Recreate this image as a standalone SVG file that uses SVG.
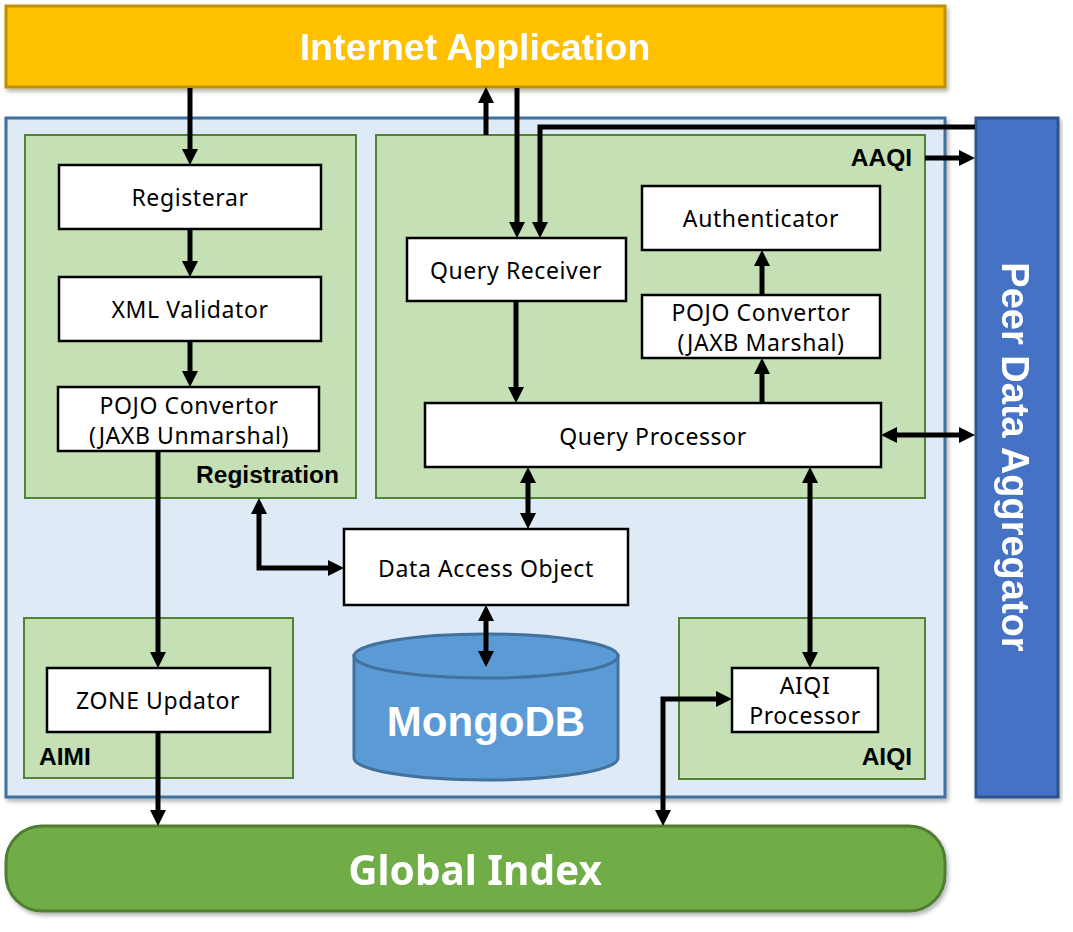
<svg xmlns="http://www.w3.org/2000/svg" width="1073" height="932" viewBox="0 0 1073 932">
<style>
.box{fill:#fff;stroke:#000;stroke-width:2.5}
.grp{fill:#C5E0B4;stroke:#548235;stroke-width:2}
.t{font-family:"Noto Sans","Open Sans",sans-serif;font-size:23px;letter-spacing:0.6px;fill:#000;text-anchor:middle}
.gl{font-family:"Liberation Sans",Arial,sans-serif;font-weight:bold;font-size:24.5px;fill:#000}
.big{font-family:"Liberation Sans",Arial,sans-serif;font-weight:bold;fill:#fff;text-anchor:middle}
.c{fill:none;stroke:#000;stroke-width:5}
</style>
<defs>
<filter id="sh" x="-5%" y="-5%" width="110%" height="115%">
<feDropShadow dx="2" dy="3" stdDeviation="2" flood-color="#000" flood-opacity="0.3"/>
</filter>
<marker id="ah" viewBox="0 0 16 16" refX="6" refY="8" markerWidth="16" markerHeight="16" markerUnits="userSpaceOnUse" orient="auto-start-reverse">
<path d="M0,0 L16,8 L0,16 z" fill="#000"/>
</marker>
</defs>
<rect width="1073" height="932" fill="#fff"/>

<g id="internet-app" filter="url(#sh)">
<rect x="6" y="6" width="939" height="81" fill="#FFC000" stroke="#BF9000" stroke-width="3"/>
<text class="big" x="475" y="60" font-size="37.5">Internet Application</text>
</g>

<g id="container" filter="url(#sh)">
<rect x="6" y="118" width="939" height="679" fill="#DEEAF6" stroke="#41719C" stroke-width="3"/>
</g>

<g id="peer-data-aggregator" filter="url(#sh)">
<rect x="976" y="118" width="82" height="679" fill="#4472C4" stroke="#2F528F" stroke-width="3"/>
<text class="big" x="1016" y="457" font-size="38" dy=".36em" transform="rotate(90 1016 457)">Peer Data Aggregator</text>
</g>

<g id="global-index" filter="url(#sh)">
<rect x="6" y="826" width="939" height="85" rx="36" ry="36" fill="#70AD47" stroke="#507E32" stroke-width="3"/>
<text x="475" y="885" font-family="'Noto Sans','Open Sans',sans-serif" font-weight="bold" font-size="40.5" fill="#fff" text-anchor="middle">Global Index</text>
</g>

<g id="registration">
<rect class="grp" x="25" y="135" width="331" height="363"/>
<text class="gl" x="339" y="483" text-anchor="end">Registration</text>
</g>

<g id="aaqi">
<rect class="grp" x="376" y="135" width="549" height="363"/>
<text class="gl" x="912" y="166" text-anchor="end">AAQI</text>
</g>

<g id="aimi">
<rect class="grp" x="24" y="618" width="269" height="160"/>
<text class="gl" x="39" y="765">AIMI</text>
</g>

<g id="aiqi">
<rect class="grp" x="679" y="618" width="246" height="161"/>
<text class="gl" x="912" y="765" text-anchor="end">AIQI</text>
</g>

<g id="registerar">
<rect class="box" x="59" y="165" width="262" height="64"/>
<text class="t" x="190" y="206">Registerar</text>
</g>
<g id="xml-validator">
<rect class="box" x="59" y="277" width="262" height="64"/>
<text class="t" x="190" y="318">XML Validator</text>
</g>
<g id="pojo-unmarshal">
<rect class="box" x="58" y="387" width="261" height="64"/>
<text class="t" x="189" y="414">POJO Convertor</text>
<text class="t" x="189" y="444">(JAXB Unmarshal)</text>
</g>
<g id="zone-updator">
<rect class="box" x="47" y="668" width="223" height="64"/>
<text class="t" x="158" y="709">ZONE Updator</text>
</g>
<g id="data-access-object">
<rect class="box" x="344" y="529" width="284" height="76"/>
<text class="t" x="486" y="577">Data Access Object</text>
</g>
<g id="query-receiver">
<rect class="box" x="407" y="238" width="219" height="63"/>
<text class="t" x="516" y="279">Query Receiver</text>
</g>
<g id="authenticator">
<rect class="box" x="642" y="186" width="238" height="64"/>
<text class="t" x="761" y="227">Authenticator</text>
</g>
<g id="pojo-marshal">
<rect class="box" x="642" y="295" width="238" height="63"/>
<text class="t" x="761" y="321">POJO Convertor</text>
<text class="t" x="761" y="351">(JAXB Marshal)</text>
</g>
<g id="query-processor">
<rect class="box" x="425" y="403" width="456" height="64"/>
<text class="t" x="653" y="445">Query Processor</text>
</g>
<g id="aiqi-processor">
<rect class="box" x="732" y="668" width="146" height="64"/>
<text class="t" x="805" y="694">AIQI</text>
<text class="t" x="805" y="724">Processor</text>
</g>

<g id="mongodb">
<path d="M354,656 V758 A132,22 0 0 0 618,758 V656 Z" fill="#5B9BD5" stroke="#41719C" stroke-width="3"/>
<ellipse cx="486" cy="656" rx="132" ry="22" fill="#5B9BD5" stroke="#41719C" stroke-width="3"/>
<text class="big" x="486" y="736" font-size="42">MongoDB</text>
</g>

<g id="connectors">
<path class="c" d="M190,88 V155" marker-end="url(#ah)"/>
<path class="c" d="M190,229 V267" marker-end="url(#ah)"/>
<path class="c" d="M190,341 V377" marker-end="url(#ah)"/>
<path class="c" d="M158,451 V658" marker-end="url(#ah)"/>
<path class="c" d="M158,732 V816" marker-end="url(#ah)"/>
<path class="c" d="M486,135 V97" marker-end="url(#ah)"/>
<path class="c" d="M517,88 V228" marker-end="url(#ah)"/>
<path class="c" d="M975,127 H540 V228" marker-end="url(#ah)"/>
<path class="c" d="M925,158 H965" marker-end="url(#ah)"/>
<path class="c" d="M516,301 V393" marker-end="url(#ah)"/>
<path class="c" d="M762,403 V368" marker-end="url(#ah)"/>
<path class="c" d="M762,295 V260" marker-end="url(#ah)"/>
<path class="c" d="M891,435 H965" marker-start="url(#ah)" marker-end="url(#ah)"/>
<path class="c" d="M528,477 V519" marker-start="url(#ah)" marker-end="url(#ah)"/>
<path class="c" d="M259,508 V568 H334" marker-start="url(#ah)" marker-end="url(#ah)"/>
<path class="c" d="M486,615 V657" marker-start="url(#ah)" marker-end="url(#ah)"/>
<path class="c" d="M810,477 V658" marker-start="url(#ah)" marker-end="url(#ah)"/>
<path class="c" d="M722,699 H663 V816" marker-start="url(#ah)" marker-end="url(#ah)"/>
</g>
</svg>
